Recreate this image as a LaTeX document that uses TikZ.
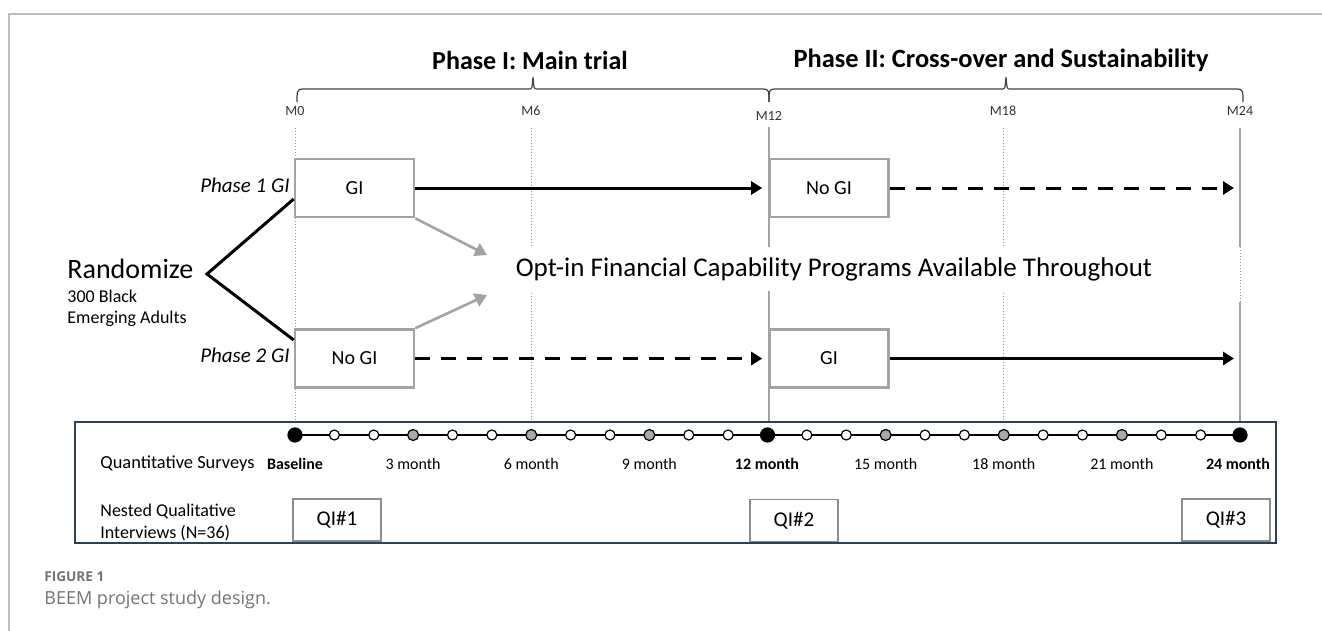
\documentclass[tikz,border=0pt]{standalone}
\usepackage{fontspec}
\setmainfont{Carlito}
\newfontfamily\capfont{Open Sans}
\usetikzlibrary{arrows.meta}
\definecolor{boxgray}{HTML}{A3A3A3}
\definecolor{framegray}{HTML}{BDBDBD}
\definecolor{dotgray}{HTML}{9E9E9E}
\definecolor{navy}{HTML}{2F3F55}
\definecolor{capgray}{HTML}{737373}
\definecolor{midgray}{HTML}{A9A9A9}
\newcommand\fsz[2]{\fontsize{#1}{#2}\selectfont}
\begin{document}
\begin{tikzpicture}[x=0.5pt,y=-0.5pt,>={Triangle[length=5.5pt,width=6.5pt]},font=\fsz{9}{11},
	gibox/.style={draw=boxgray,line width=1.3pt,fill=white,minimum width=59.5pt,minimum height=29pt,inner sep=0pt,font=\fsz{10}{12}},
	qibox/.style={draw=gray!90,line width=0.7pt,fill=white,minimum width=44pt,minimum height=21pt,inner sep=0pt,font=\fsz{10.5}{12}},
	arm/.style={->,line width=1.5pt,shorten >=3pt},
	dasharm/.style={->,line width=1.5pt,shorten >=3pt,dash pattern=on 7.5pt off 5.5pt},
	grayarm/.style={-{Triangle[length=6pt,width=7pt]},draw=boxgray,line width=1.3pt},
	guide/.style={draw=dotgray,line width=0.5pt,dash pattern=on 0.6pt off 0.9pt},
	mainline/.style={draw=boxgray,line width=1.3pt},
	brace/.style={draw=black!75,line width=0.6pt},
	mlab/.style={font=\fsz{7}{8},text=black!80,inner sep=0pt},
	month/.style={font=\fsz{8}{9},inner sep=0pt},
	wdot/.style={circle,draw,line width=0.6pt,fill=white,minimum size=5pt,inner sep=0pt},
	gdot/.style={wdot,fill=midgray,minimum size=5.5pt},
	bdot/.style={wdot,fill=black,minimum size=7pt}]
	\useasboundingbox (0,0) rectangle (1322,631);
	% frame
	\draw[framegray,line width=1pt] (1322,14) -- (9,14) -- (9,631);
	% phases
	\node[font=\bfseries\fsz{13}{15}] (ph1) at (530,60) {Phase I: Main trial};
	\node[font=\bfseries\fsz{13.2}{15}] (ph2) at (1001,60) {Phase II: Cross-over and Sustainability};
	\node[mlab] (m0) at (295,111) {M0};
	\node[mlab] (m6) at (531,111) {M6};
	\node[mlab] (m12) at (769,116) {M12};
	\node[mlab] (m18) at (1003,111) {M18};
	\node[mlab] (m24) at (1240,111) {M24};
	\draw[brace] (297,102) .. controls (297,91) and (297,89) .. (303,89) -- (529,89)
		.. controls (532,89) .. (533,77) .. controls (534,89) .. (537,89) -- (763,89)
		.. controls (769,89) and (769,91) .. (769,102);
	\draw[brace] (769,102) .. controls (769,91) and (769,89) .. (775,89) -- (1002,89)
		.. controls (1005,89) .. (1006,77) .. controls (1007,89) .. (1010,89) -- (1237,89)
		.. controls (1243,89) and (1243,91) .. (1243,102);
	% survey panel
	\node[draw=navy,line width=0.6pt,minimum width=600.5pt,minimum height=60.5pt,inner sep=0pt] (panel) at (675.5,482.5) {};
	% month guides
	\draw[guide] ([yshift=-6pt]m0.south) -- (m0 |- panel.north);
	\draw[guide] ([yshift=-6pt]m6.south) -- (m6 |- panel.north);
	\draw[guide] ([yshift=-6pt]m18.south) -- (m18 |- panel.north);
	\draw[mainline] ([yshift=-3pt]m12.south) -- (m12 |- panel.north);
	\coordinate (g1) at (1240,247);
	\coordinate (g2) at (1240,302);
	\draw[mainline] ([yshift=-6pt]m24.south) -- (g1);
	\draw[guide] (g1) -- (g2);
	\draw[mainline] (g2) -- (m24 |- panel.north);
	% arms
	\node[gibox] (gi1) at (354.5,188) {GI};
	\node[gibox] (nogi2) at (354.5,358.5) {No GI};
	\node[gibox] (nogi1) at (829,188) {No GI};
	\node[gibox] (gi2) at (829,358.5) {GI};
	\node[anchor=east,inner sep=0pt,font=\itshape\fsz{10.5}{12}] (arm1) at (290,185) {Phase 1 GI};
	\node[anchor=east,inner sep=0pt,font=\itshape\fsz{10.5}{12}] (arm2) at (290,355) {Phase 2 GI};
	\node[anchor=west,inner sep=0pt,font=\fsz{14}{16}] (rnd) at (67,269) {Randomize};
	\node[anchor=west,inner sep=0pt] (pop1) at (67,296) {300 Black};
	\node[anchor=west,inner sep=0pt] (pop2) at (67,319) {Emerging Adults};
	\coordinate (split) at (207,274);
	\draw[line width=1.5pt] ([yshift=-5.5pt]gi1.west) -- (split) -- ([yshift=9.25pt]nogi2.west);
	\coordinate (end1) at (m24 |- gi1);
	\coordinate (end2) at (m24 |- gi2);
	\draw[arm] (gi1) -- (nogi1);
	\draw[dasharm] (nogi1) -- (end1);
	\draw[dasharm] (nogi2) -- (gi2);
	\draw[arm] (gi2) -- (end2);
	\node[fill=white,inner xsep=2pt,inner ysep=5pt,font=\fsz{13.5}{15}] (optin) at (834,269) {Opt-in Financial Capability Programs Available Throughout};
	\coordinate (p1) at (487,255);
	\coordinate (p2) at (487,295);
	\draw[grayarm] (gi1.south east) -- (p1);
	\draw[grayarm] (nogi2.north east) -- (p2);
	% surveys
	\coordinate (t0) at (295,435);
	\coordinate (t24) at (1240,435);
	\draw[line width=0.6pt] (t0) -- (t24);
	\foreach \k in {1,2,4,5,7,8,10,11,13,14,16,17,19,20,22,23}
		\node[wdot] (s\k) at (295+39.375*\k,435) {};
	\foreach \k in {3,6,9,15,18,21}
		\node[gdot] (s\k) at (295+39.375*\k,435) {};
	\foreach \k in {0,12,24}
		\node[bdot] (s\k) at (295+39.375*\k,435) {};
	\node[anchor=west,inner sep=0pt,font=\fsz{9.2}{11}] (qs) at (100,464) {Quantitative Surveys};
	\node[month,font=\bfseries\fsz{8}{9}] (lb0) at (295,464) {Baseline};
	\foreach \k in {3,6,9,15,18,21}
		\node[month] (lb\k) at (295+39.375*\k,464) {\k\ month};
	\node[month,font=\bfseries\fsz{8}{9}] (lb12) at (767,464) {12 month};
	\node[month,font=\bfseries\fsz{8}{9}] (lb24) at (1238,464) {24 month};
	\node[anchor=west,align=left,inner sep=0pt,font=\fsz{9}{11}] (nq) at (100,522) {Nested Qualitative\\Interviews (N=36)};
	\node[qibox] (qi1) at (337,520) {QI\#1};
	\node[qibox] (qi2) at (794,520.5) {QI\#2};
	\node[qibox] (qi3) at (1226,520) {QI\#3};
	% caption
	\node[anchor=west,inner sep=0pt,text=capgray,font=\capfont\bfseries\fsz{6.8}{8}] (fig) at (44,577) {FIGURE 1};
	\node[anchor=west,inner sep=0pt,text=capgray,font=\capfont\fsz{9}{11}] (cap) at (44,600) {BEEM project study design.};
\end{tikzpicture}
\end{document}
